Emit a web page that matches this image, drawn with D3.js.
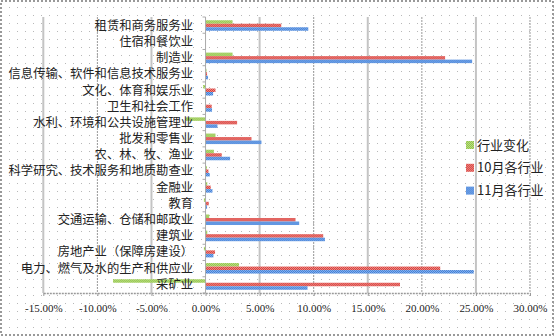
<!DOCTYPE html>
<html>
<head>
<meta charset="utf-8">
<script src="https://cdn.jsdelivr.net/npm/d3@7"></script>
<style>
  body { margin: 0; background: #fff; }
  svg { display: block; }
</style>
</head>
<body>
<div id="vis"></div>
<script>
// categories top to bottom, values in percent
const CATEGORIES = ["租赁和商务服务业", "住宿和餐饮业", "制造业", "信息传输、软件和信息技术服务业",
  "文化、体育和娱乐业", "卫生和社会工作", "水利、环境和公共设施管理业", "批发和零售业",
  "农、林、牧、渔业", "科学研究、技术服务和地质勘查业", "金融业", "教育",
  "交通运输、仓储和邮政业", "建筑业", "房地产业（保障房建设）", "电力、燃气及水的生产和供应业", "采矿业"];
const CHANGE = [2.5, 0, 2.5, 0.09, -0.22, 0.03, -1.82, 0.92, 0.77, 0.12, 0.16, -0.15, 0.34, 0.16, -0.15, 3.1, -8.55];
const OCT = [7.0, 0, 22.15, 0.14, 0.92, 0.57, 2.92, 4.25, 1.5, 0.27, 0.48, 0.3, 8.32, 10.88, 0.88, 21.7, 17.98];
const NOV = [9.5, 0, 24.65, 0.23, 0.7, 0.6, 1.1, 5.17, 2.27, 0.39, 0.64, 0.14, 8.66, 11.04, 0.73, 24.8, 9.43];
const SERIES = ["行业变化", "10月各行业", "11月各行业"];
const TICKS = [-15, -10, -5, 0, 5, 10, 15, 20, 25, 30];

const WIDTH = 554, HEIGHT = 336;
const COLORS = ["#93c54b", "#d6403c", "#3e7ed6"];
const LIGHT = ["#b9dc83", "#ee8a86", "#86b0ec"];

const svg = d3.select("#vis").append("svg")
    .attr("width", WIDTH).attr("height", HEIGHT);

const defs = svg.append("defs");
// dotted page background
const dots = defs.append("pattern").attr("id", "dots")
    .attr("width", 8).attr("height", 8).attr("patternUnits", "userSpaceOnUse");
dots.append("rect").attr("x", 1).attr("y", 7).attr("width", 1).attr("height", 1).attr("fill", "#b8b8b8");
// checker texture for bars
COLORS.forEach((c, i) => {
  const p = defs.append("pattern").attr("id", "tex" + i)
      .attr("width", 2).attr("height", 2).attr("patternUnits", "userSpaceOnUse");
  p.append("rect").attr("width", 2).attr("height", 2).attr("fill", c);
  p.append("rect").attr("width", 1).attr("height", 1).attr("fill", LIGHT[i]);
  p.append("rect").attr("x", 1).attr("y", 1).attr("width", 1).attr("height", 1).attr("fill", LIGHT[i]);
});

svg.append("rect").attr("width", WIDTH).attr("height", HEIGHT).attr("fill", "url(#dots)");
svg.append("rect").attr("x", 1).attr("y", 1).attr("width", WIDTH - 2).attr("height", HEIGHT - 2)
    .attr("fill", "none").attr("stroke", "#999").attr("stroke-width", 2).attr("stroke-dasharray", "2,2");

const X_SCALE = d3.scaleLinear().domain([-15, 30]).range([43.3, 530]);
const Y_SCALE = d3.scaleBand().domain(CATEGORIES).range([17, 293]).paddingInner(0.35).paddingOuter(0.2);
const SUB = d3.scaleBand().domain(SERIES).range([0, Y_SCALE.bandwidth()]);

// gridlines
svg.append("g").selectAll("line").data(TICKS.filter(d => d !== 0)).enter().append("line")
    .attr("x1", d => X_SCALE(d)).attr("x2", d => X_SCALE(d))
    .attr("y1", 17).attr("y2", 293)
    .attr("stroke", d => (d % 10 === 0) ? "#999" : "#c4c4c4")
    .attr("stroke-width", d => (d % 10 === 0) ? 1 : 2)
    .attr("stroke-dasharray", d => (d % 10 === 0) ? "2,1" : null);

// bottom axis
const xAxis = svg.append("g").attr("transform", "translate(0,293)")
    .call(d3.axisBottom(X_SCALE).tickValues(TICKS).tickFormat(d => d.toFixed(2) + "%").tickSizeInner(3).tickSizeOuter(0));
xAxis.select(".domain").attr("stroke", "#999").attr("stroke-width", 1.5).attr("stroke-dasharray", "2,1");
xAxis.selectAll(".tick line").attr("stroke", "#999");
xAxis.selectAll("text").attr("font-family", "Liberation Serif, serif").attr("font-size", "11px")
    .attr("fill", "#222").attr("dy", "1.15em");

// bars
const DATA = [CHANGE, OCT, NOV];
const rows = CATEGORIES.map((c, i) => SERIES.map((s, j) => ({cat: c, series: s, idx: j, value: DATA[j][i]})));
svg.append("g").selectAll("g").data(rows).enter().append("g")
    .attr("transform", d => "translate(0," + Y_SCALE(d[0].cat) + ")")
  .selectAll("rect").data(d => d).enter().append("rect")
    .attr("x", d => X_SCALE(Math.min(0, d.value)))
    .attr("y", d => SUB(d.series))
    .attr("width", d => Math.abs(X_SCALE(d.value) - X_SCALE(0)))
    .attr("height", SUB.bandwidth())
    .attr("fill", d => "url(#tex" + d.idx + ")");

// category axis at zero
const x0 = X_SCALE(0);
svg.append("line").attr("x1", x0).attr("x2", x0).attr("y1", 17).attr("y2", 293)
    .attr("stroke", "#aaa").attr("stroke-width", 1);
svg.append("g").selectAll("line").data(d3.range(CATEGORIES.length + 1)).enter().append("line")
    .attr("x1", x0 - 3).attr("x2", x0)
    .attr("y1", d => 17 + d * (276 / CATEGORIES.length))
    .attr("y2", d => 17 + d * (276 / CATEGORIES.length))
    .attr("stroke", "#aaa");

// category labels
svg.append("g").selectAll("text").data(CATEGORIES).enter().append("text")
    .attr("x", 193)
    .attr("y", d => Y_SCALE(d) + Y_SCALE.bandwidth() / 2)
    .attr("dy", "0.35em")
    .attr("text-anchor", "end")
    .attr("font-family", "Noto Sans CJK SC, sans-serif")
    .attr("font-size", "12.3px")
    .attr("fill", "#222")
    .text(d => d);

// legend
const legend = svg.append("g").selectAll("g").data(SERIES).enter().append("g")
    .attr("transform", (d, i) => "translate(466," + (145 + i * 22.8) + ")");
legend.append("rect").attr("x", 0).attr("y", -4).attr("width", 8).attr("height", 8)
    .attr("fill", (d, i) => "url(#tex" + i + ")");
legend.append("text").attr("x", 11).attr("dy", "0.35em")
    .attr("font-family", "Noto Sans CJK SC, sans-serif").attr("font-size", "13px")
    .attr("fill", "#222").text(d => d);
</script>
</body>
</html>
